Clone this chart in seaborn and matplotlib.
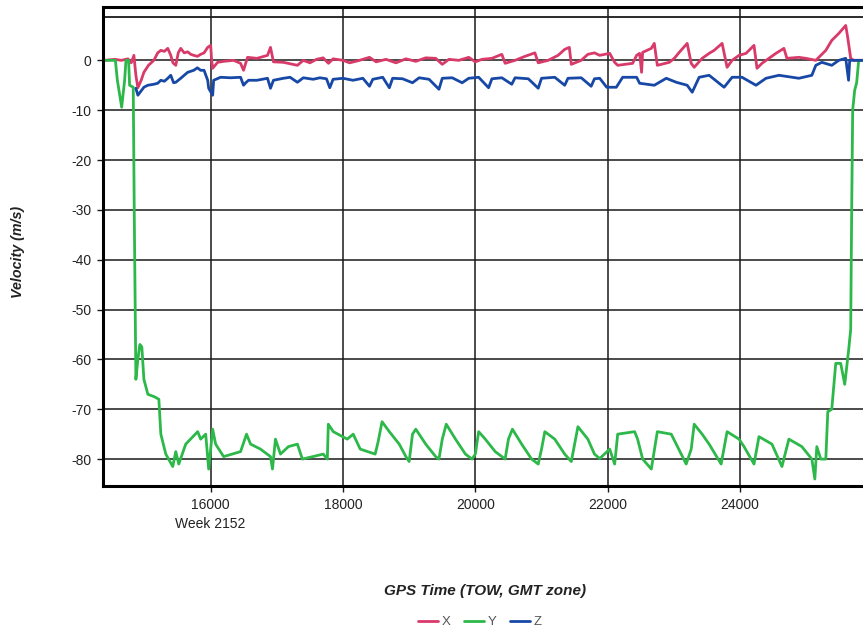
import seaborn as sns
import pandas as pd
import matplotlib.pyplot as plt
from matplotlib.lines import Line2D

# GPS time of week (s) and velocity (m/s)
x_t = [14400, 14550, 14650, 14750, 14800, 14825, 14840, 14870, 14900, 14950, 14991, 15060, 15141,
       15200, 15247, 15300, 15352, 15397, 15430, 15473, 15510, 15548, 15600, 15653, 15700, 15744,
       15800, 15849, 15900, 15955, 16000, 16015, 16030, 16105, 16200, 16347, 16452, 16480, 16497,
       16557, 16700, 16859, 16904, 16949, 17100, 17311, 17400, 17500, 17600, 17700, 17780, 17850,
       18000, 18100, 18250, 18400, 18500, 18650, 18800, 18950, 19100, 19250, 19400, 19500, 19600,
       19750, 19900, 20000, 20100, 20250, 20400, 20450, 20600, 20750, 20900, 20950, 21100, 21250,
       21350, 21420, 21450, 21600, 21700, 21800, 21879, 22030, 22105, 22151, 22377, 22437, 22482,
       22512, 22528, 22659, 22704, 22750, 22931, 23006, 23081, 23201, 23262, 23307, 23427, 23533,
       23608, 23729, 23804, 23880, 23985, 24090, 24211, 24256, 24331, 24437, 24542, 24663, 24708,
       24889, 24995, 25145, 25296, 25386, 25492, 25597, 25627, 25672, 25717, 25858]
x_v = [0, 0.2, 0, 0.3, -0.5, 0.4, 1, -3, -5.5, -4, -2.4, -1, 0,
       1.5, 2, 1.8, 2.4, 1, -0.5, -1, 1.5, 2.4, 1.5, 1.7, 1.2, 1,
       0.8, 1.2, 1.5, 2.6, 3, 0, -1.6, -0.4, -0.2, 0, -0.6, -1.5, -2,
       0.6, 0.4, 1, 2.6, -0.3, -0.4, -1, 0, -0.5, 0.2, 0.5, -0.6, 0.3,
       0, -0.5, 0, 0.6, -0.3, 0.2, -0.5, 0.3, -0.2, 0.5, 0.4, -0.8, 0.2,
       0, 0.6, -0.3, 0.2, 0.4, 1.2, -0.6, 0, 0.8, 1.5, -0.5, 0, 1,
       2.2, 2.6, -0.8, 0, 1.2, 1.5, 1, 1.4, -0.4, -1, -0.6, 1, 1.4,
       -2.4, 1.6, 2.4, 3.4, -1, -0.4, 0.4, 1.6, 3.4, -0.6, -1.4, 0.4, 1.4,
       2, 3.4, -1.4, 0, 1, 1.4, 3, -1.6, -0.6, 0.4, 1.4, 2.4, 0.4,
       0.6, 0.4, 0, 2, 4, 5.4, 7, 4.6, 0.4, 0, 0]

y_t = [14400, 14560, 14590, 14655, 14700, 14720, 14760, 14775, 14830, 14845, 14870, 14900, 14930,
       14960, 14991, 15051, 15150, 15217, 15247, 15322, 15427, 15473, 15518, 15623, 15804, 15849,
       15925, 15970, 16030, 16075, 16196, 16452, 16542, 16603, 16753, 16904, 16934, 16979, 17055,
       17175, 17311, 17386, 17702, 17763, 17778, 17853, 18064, 18154, 18260, 18486, 18531, 18590,
       18700, 18850, 18950, 19000, 19050, 19100, 19250, 19400, 19450, 19500, 19560, 19700, 19850,
       19950, 20000, 20050, 20150, 20300, 20450, 20500, 20560, 20700, 20850, 20950, 21000, 21050,
       21200, 21350, 21450, 21500, 21550, 21700, 21800, 21879, 21950, 22030, 22105, 22151, 22407,
       22452, 22528, 22659, 22750, 22960, 23036, 23186, 23262, 23307, 23427, 23533, 23714, 23804,
       23985, 24060, 24211, 24286, 24482, 24633, 24738, 24934, 25085, 25130, 25160, 25220, 25296,
       25326, 25386, 25446, 25521, 25582, 25642, 25672, 25687, 25702, 25732, 25762, 25793, 25858]
y_v = [0, 0, -4, -9.4, -4, 0, 0, -5, -5.4, -30, -64, -60, -57,
       -57.5, -64, -67, -67.5, -68, -75, -79, -81.5, -78.5, -81, -77, -74.5, -76,
       -75, -82, -74, -77, -79.5, -78.5, -75, -77, -78, -79.5, -82, -76, -79,
       -77.5, -77, -80, -79, -80, -73, -74.5, -76, -75, -78, -79, -76.5, -72.5,
       -74.5, -77, -79.5, -80.5, -75, -74, -77, -79.5, -80, -76, -73, -76, -79,
       -80, -79, -74.5, -76, -78.5, -80, -76, -74, -77, -80, -81, -78, -74.5,
       -76, -79, -80.5, -77, -73.5, -76, -79, -79.9, -79, -78, -81, -75, -74.5,
       -76, -80, -82, -74.5, -75, -77, -81, -78, -73, -75, -77, -81, -74.5,
       -76, -77.5, -81, -75.5, -77, -81.5, -76, -77.5, -80, -84, -77.5, -80, -80,
       -70.5, -70, -60.8, -60.8, -65, -58, -54, -30, -10, -6, -4.5, 0, 0]

z_t = [14870, 14900, 14991, 15050, 15141, 15200, 15247, 15300, 15352, 15397, 15440, 15473, 15548,
       15600, 15653, 15744, 15800, 15849, 15900, 15955, 15970, 16030, 16045, 16150, 16300, 16452,
       16497, 16530, 16572, 16700, 16859, 16904, 16949, 17100, 17200, 17311, 17400, 17550, 17650,
       17750, 17800, 17850, 18000, 18150, 18300, 18400, 18450, 18600, 18700, 18750, 18900, 19050,
       19150, 19300, 19450, 19500, 19650, 19800, 19900, 20050, 20200, 20250, 20400, 20550, 20600,
       20800, 20950, 21000, 21200, 21350, 21400, 21600, 21750, 21800, 21879, 21985, 22130, 22226,
       22437, 22482, 22704, 22885, 23036, 23201, 23277, 23382, 23533, 23759, 23880, 24030, 24241,
       24392, 24588, 24889, 25085, 25145, 25236, 25386, 25492, 25597, 25640, 25657, 25717, 25858]
z_v = [-5.6, -7, -5.4, -5, -4.8, -4.6, -4, -4.2, -3.6, -3, -4.5, -4.4, -3.6,
       -3, -2.4, -2, -1.5, -2, -2, -4, -5.6, -7, -4, -3.4, -3.5, -3.4,
       -5, -4.5, -4, -4, -3.6, -5.6, -4, -3.6, -3.4, -4.4, -3.5, -3.8, -3.5,
       -3.7, -5.5, -3.8, -3.6, -4, -3.6, -5.2, -3.8, -3.4, -5.5, -3.6, -3.7, -4.5,
       -3.5, -3.8, -5.8, -3.6, -3.5, -4.5, -3.6, -3.4, -5.5, -3.7, -3.5, -4.8, -3.5,
       -3.7, -5.6, -3.6, -3.4, -5, -3.6, -3.5, -5.2, -3.7, -3.6, -5.4, -5.4, -3.4,
       -3.4, -4.6, -5, -3.6, -4.4, -5, -6.4, -3.4, -3, -5.4, -3.4, -3.4, -5,
       -3.6, -3, -3.6, -3, -1, -0.4, -1, 0, 0.4, -4, 0, 0, 0]

names = ['X', 'Y', 'Z']
colors = ['#d83a6a', '#2db84a', '#1748a6']

df = pd.concat([
    pd.DataFrame({'t': x_t, 'v': x_v, 'axis': 'X'}),
    pd.DataFrame({'t': y_t, 'v': y_v, 'axis': 'Y'}),
    pd.DataFrame({'t': z_t, 'v': z_v, 'axis': 'Z'}),
])

sns.set_style("white")
plt.rcParams['font.family'] = ['Liberation Sans', 'DejaVu Sans']
plt.rcParams['axes.unicode_minus'] = False

fig = plt.figure(figsize=(8.63, 6.37), dpi=100)
ax = fig.add_axes([103/863, 1-486/637, 1-103/863, (486-7)/637])

sns.lineplot(data=df, x='t', y='v', hue='axis', palette=dict(zip(names, colors)),
             estimator=None, sort=False, lw=2, legend=False, ax=ax)

ax.set_xlim(14373, 25858)
ax.set_ylim(-85.4, 10.7)
ax.set_xticks([16000, 18000, 20000, 22000, 24000])
ax.set_xticklabels(['16000\nWeek 2152', '18000', '20000', '22000', '24000'], linespacing=1.5)
for lab in ax.get_xticklabels():
    lab.set_verticalalignment('top')
ax.set_yticks(range(-80, 1, 10))
ax.grid(True, color='#1a1a1a', lw=1.1)
ax.set_axisbelow(True)
ax.axhline(8.7, color='#1a1a1a', lw=1.3, zorder=0.5)
ax.tick_params(bottom=True, left=True, direction='out', length=4, width=1, color='#1a1a1a',
               labelsize=10, labelcolor='#222222', pad=4.5)

for s in ['left', 'bottom', 'top']:
    ax.spines[s].set_linewidth(2.2)
    ax.spines[s].set_color('black')
ax.spines['right'].set_visible(False)
ax.set_xlabel('')
ax.set_ylabel('')

fig.text(18/863, 1-252/637, 'Velocity (m/s)', rotation=90, ha='center', va='center',
         fontsize=10.3, fontweight='bold', fontstyle='italic', color='#222222')
fig.text(485/863, 1-591/637, 'GPS Time (TOW, GMT zone)', ha='center', va='center',
         fontsize=11, fontweight='bold', fontstyle='italic', color='#222222')

handles = [Line2D([], [], color=c, lw=2) for c in colors]
fig.legend(handles, names, loc='center', bbox_to_anchor=(480/863, 1-622/637), ncol=3,
           frameon=False, fontsize=9.5, labelcolor='#555555', handlelength=1.5,
           handletextpad=0.3, columnspacing=1.0)

fig.savefig('out.png', dpi=100)
